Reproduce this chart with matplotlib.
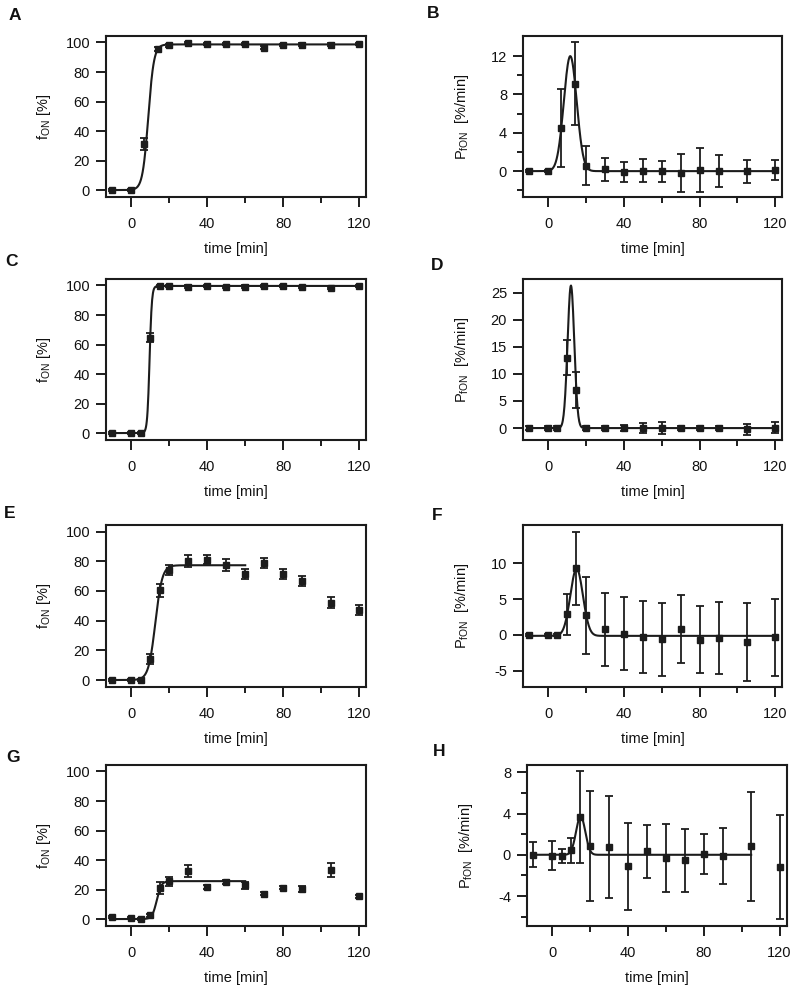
import numpy as np
import matplotlib
matplotlib.use("Agg")
import matplotlib.pyplot as plt
from matplotlib.ticker import FixedLocator

plt.rcParams['font.family'] = ['Liberation Sans', 'DejaVu Sans']
plt.rcParams['mathtext.fontset'] = 'custom'
plt.rcParams['mathtext.rm'] = 'Liberation Sans'
plt.rcParams['mathtext.it'] = 'Liberation Sans:italic'

# ---------------- data ----------------
t_ab = [-10, 0, 7, 14, 20, 30, 40, 50, 60, 70, 80, 90, 105, 120]
t_cdefgh = [-10, 0, 5, 10, 15, 20, 30, 40, 50, 60, 70, 80, 90, 105, 120]

a_val = [0, 0, 31.3, 95.5, 98.2, 99.5, 98.9, 99.1, 98.9, 96.6, 98.4, 98.6, 98.6, 99.1]
a_err = [0.5, 0.5, 4.1, 1.5, 1.0, 0.8, 0.8, 0.8, 0.8, 0.8, 0.8, 0.8, 0.8, 0.8]
b_val = [0, 0, 4.5, 9.13, 0.56, 0.17, -0.07, 0.03, 0.0, -0.2, 0.1, 0.0, 0.0, 0.1]
b_err = [0.1, 0.1, 4.1, 4.35, 2.05, 1.2, 1.03, 1.2, 1.1, 2.0, 2.3, 1.7, 1.2, 1.05]

c_val = [0, 0, 0, 64.5, 99.8, 99.8, 99.3, 99.5, 98.8, 99.2, 99.8, 99.8, 99.0, 98.5, 99.8]
c_err = [0.5, 0.5, 0.5, 3.0, 0.8, 0.8, 0.8, 0.8, 0.8, 0.8, 0.8, 0.8, 0.8, 0.8, 0.8]
d_val = [0, 0, 0, 13.0, 7.0, 0, 0, 0, 0, 0, 0, 0, 0, -0.2, 0.1]
d_err = [0.3, 0.3, 0.3, 3.3, 3.35, 0.3, 0.3, 0.5, 0.9, 1.1, 0.4, 0.3, 0.3, 1.0, 1.0]

e_val = [0, 0, 0, 14.2, 60.4, 73.9, 80.2, 81.1, 77.7, 71.2, 78.8, 71.4, 66.4, 52.0, 47.3]
e_err = [0.5, 0.5, 0.5, 3.4, 4.3, 3.4, 4.0, 3.2, 4.0, 3.3, 3.3, 3.3, 3.4, 3.7, 3.5]
f_val = [0, 0, 0, 2.86, 9.3, 2.7, 0.75, 0.14, -0.33, -0.6, 0.75, -0.7, -0.42, -1.0, -0.33]
f_err = [0.1, 0.1, 0.1, 2.86, 5.1, 5.4, 5.1, 5.1, 5.05, 5.1, 4.75, 4.7, 5.0, 5.45, 5.4]

g_val = [1.35, 0.7, 0, 2.5, 21.0, 25.5, 32.7, 21.7, 25.0, 22.8, 17.2, 21.2, 20.3, 33.0, 15.3]
g_err = [0.5, 0.5, 0.5, 1.0, 4.3, 2.8, 4.0, 1.5, 1.2, 2.5, 1.0, 1.0, 2.0, 4.8, 1.2]
h_val = [0, -0.1, -0.13, 0.45, 3.7, 0.87, 0.71, -1.13, 0.32, -0.29, -0.55, 0.1, -0.1, 0.81, -1.17]
h_err = [1.2, 1.4, 0.7, 1.2, 4.45, 5.3, 4.94, 4.22, 2.57, 3.28, 3.06, 1.94, 2.7, 5.26, 5.05]

# fitted model parameters
# sigmoid: plateau, midpoint, width, t_end
fit_a = [98.7, 9.0, 1.5, 120]
fit_c = [99.7, 9.7, 0.6, 120]
fit_e = [77.3, 12.74, 1.8, 60]
fit_g = [25.7, 13.5, 1.2, 60]
# gaussian: height, centre, sigma, baseline, t_end
fit_b = [12.0, 11.75, 3.4, 0.0, 120]
fit_d = [26.3, 12.1, 1.77, 0.0, 120]
fit_f = [9.4, 15.1, 3.3, -0.15, 120]
fit_h = [3.75, 15.1, 2.4, 0.0, 105]

ylims_left = (-4.7, 104.4)
ylim_b = (-2.7, 14.1)
ylim_d = (-2.2, 27.5)
ylim_f = (-7.3, 15.35)
ylim_h = (-6.9, 8.7)

W, H = 797, 991
fig = plt.figure(figsize=(W / 100, H / 100), dpi=100)

col = '#1c1c1c'


def px_axes(x0, y0, x1, y1):
    return fig.add_axes([x0 / W, 1 - y1 / H, (x1 - x0) / W, (y1 - y0) / H])


def sigmoid(p, t):
    return p[0] / (1 + np.exp(-(t - p[1]) / p[2]))


def gauss(p, t):
    return p[3] + p[0] * np.exp(-(t - p[1]) ** 2 / (2 * p[2] ** 2))


def style(ax, ylim, ymajor, yminor, left_col, xmax=123.5):
    ax.set_xlim(-13.2, xmax)
    ax.set_ylim(*ylim)
    for s in ax.spines.values():
        s.set_linewidth(1.5)
        s.set_color(col)
    ax.xaxis.set_major_locator(FixedLocator([0, 40, 80, 120]))
    ax.xaxis.set_minor_locator(FixedLocator([20, 60, 100]))
    ax.yaxis.set_major_locator(FixedLocator(ymajor))
    ax.yaxis.set_minor_locator(FixedLocator(yminor))
    ax.tick_params(which='major', direction='out', length=7.5, width=1.4,
                   labelsize=10.5, color=col, labelcolor='#111111')
    ax.tick_params(axis='x', which='major', pad=7)
    ax.tick_params(axis='y', which='major', pad=4)
    ax.tick_params(which='minor', direction='out', length=4.5, width=1.4, color=col)
    ax.yaxis.set_major_formatter(matplotlib.ticker.FuncFormatter(lambda v, p: '%g' % v))
    ax.set_xlabel('time [min]', fontsize=10.5, labelpad=8, color='#111111')
    if left_col:
        ax.set_ylabel(r'f$_{\mathrm{ON}}$ [%]', fontsize=10.5, color='#111111')
        ax.yaxis.set_label_coords(-0.205, 0.5)
    else:
        ax.set_ylabel(r'P$_{\mathrm{fON}}$  [%/min]', fontsize=10.5, color='#111111')
        ax.yaxis.set_label_coords(-0.20, 0.5)


def draw(ax, t, v, e, curve):
    ax.plot(*curve, color=col, lw=1.5, zorder=2)
    ax.errorbar(t, v, yerr=e, fmt='s', color=col, ms=5, capsize=3.2,
                elinewidth=1.3, capthick=1.3, zorder=3, clip_on=False)


rows = [(36, 197), (279, 440), (525, 687), (765, 926)]
left_x = (106, 366)
right_x = (523, 782)

left_sets = [(t_ab, a_val, a_err, fit_a), (t_cdefgh, c_val, c_err, fit_c),
             (t_cdefgh, e_val, e_err, fit_e), (t_cdefgh, g_val, g_err, fit_g)]
right_sets = [(t_ab, b_val, b_err, fit_b, ylim_b, [0, 4, 8, 12], [-2, 2, 6, 10]),
              (t_cdefgh, d_val, d_err, fit_d, ylim_d, [0, 5, 10, 15, 20, 25], []),
              (t_cdefgh, f_val, f_err, fit_f, ylim_f, [-5, 0, 5, 10], []),
              (t_cdefgh, h_val, h_err, fit_h, ylim_h, [-4, 0, 4, 8], [-6, -2, 2, 6])]

for i, (y0, y1) in enumerate(rows):
    t, v, e, p = left_sets[i]
    ax = px_axes(left_x[0], y0, left_x[1], y1)
    style(ax, ylims_left, [0, 20, 40, 60, 80, 100], [], True)
    tt = np.linspace(-10, p[3], 600)
    draw(ax, t, v, e, (tt, sigmoid(p, tt)))

    t, v, e, p, yl, ymaj, ymin = right_sets[i]
    if i == 3:
        ax = px_axes(527, y0, 787, y1)
        style(ax, yl, ymaj, ymin, False, xmax=123.9)
    else:
        ax = px_axes(right_x[0], y0, right_x[1], y1)
        style(ax, yl, ymaj, ymin, False)
    tt = np.linspace(-10, p[4], 600)
    draw(ax, t, v, e, (tt, gauss(p, tt)))

letters = [('A', 15, 15), ('B', 433, 14), ('C', 12, 262), ('D', 437, 265),
           ('E', 10, 513), ('F', 437, 515), ('G', 13, 758), ('H', 439, 752)]
for s, x, y in letters:
    fig.text(x / W, 1 - y / H, s, fontsize=12.5, fontweight='bold',
             ha='center', va='center', color='#111111')

fig.savefig('out.png', dpi=100)
